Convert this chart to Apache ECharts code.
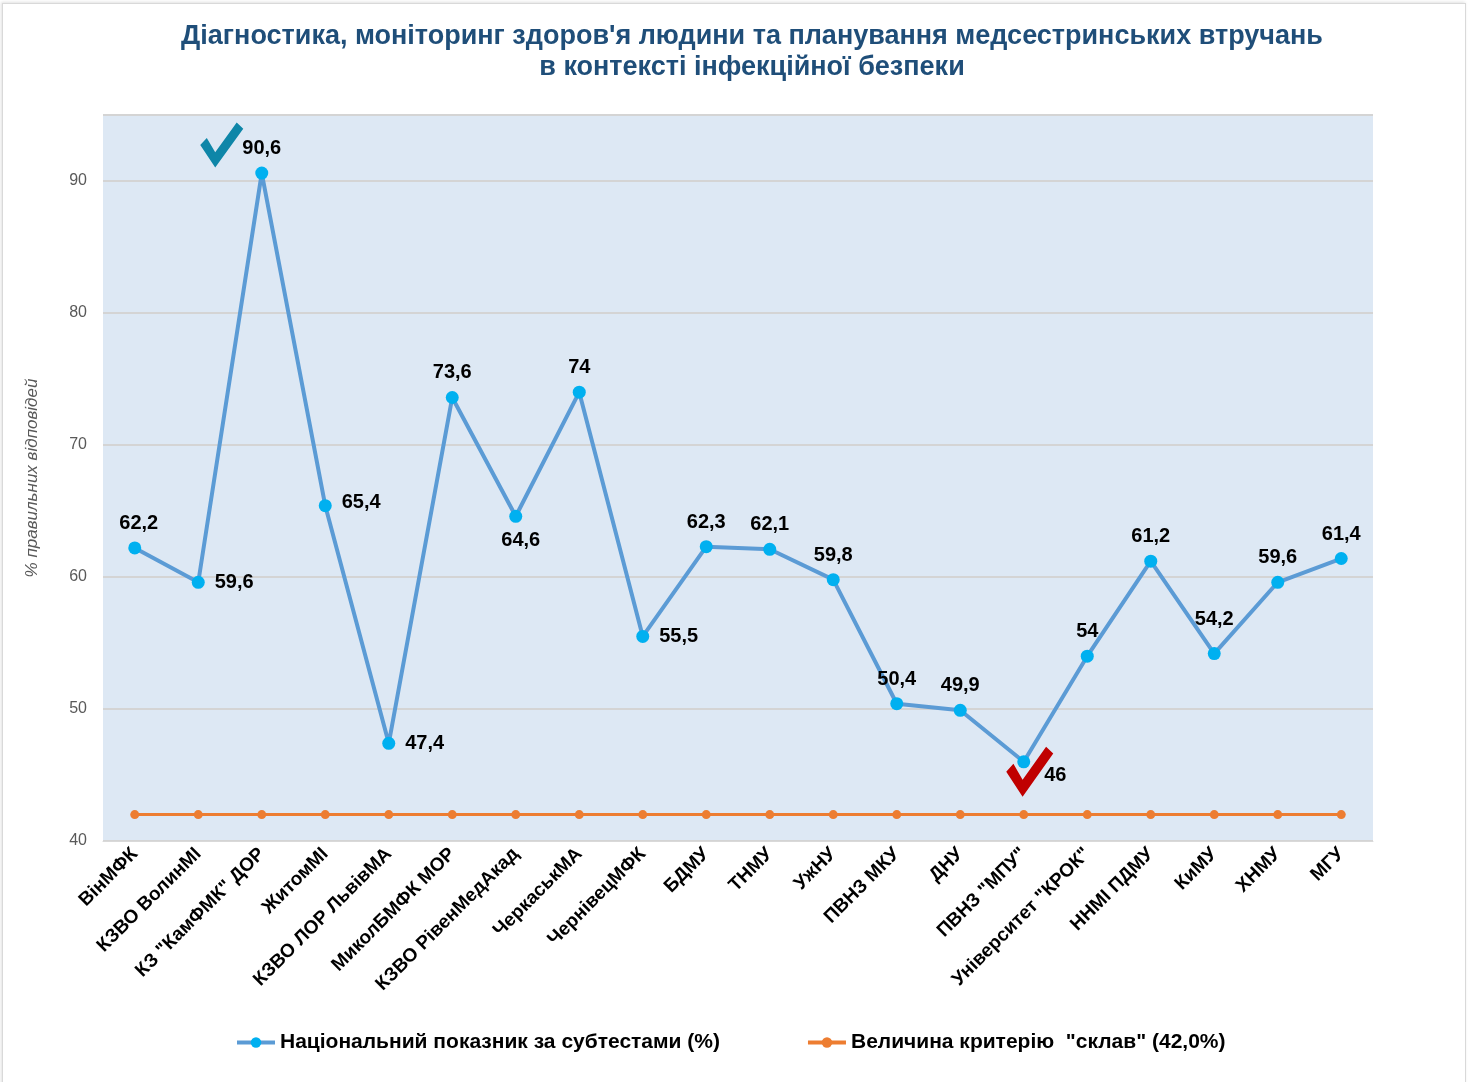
<!DOCTYPE html>
<html>
<head>
	<meta charset="utf-8">
	<title>chart</title>
	<style>
		body {
			margin: 0;
			padding: 0;
			background-color: #fff;
		}
		#frame {
			position: absolute;
			left: 2px;
			top: 3px;
			width: 1462px;
			height: 1090px;
			border: 1px solid #d9d9d9;
			box-shadow: -1px -1px 3px rgba(0, 0, 0, 0.12);
		}
		#main {
			position: absolute;
			left: 0;
			top: 0;
			width: 1471px;
			height: 1082px;
		}
	</style>
</head>
<body>
	<div id="frame"></div>
	<div id="main"></div>

	<script src="https://cdn.jsdelivr.net/npm/echarts@6/dist/echarts.min.js"></script>
	<script type="text/javascript">
		// навчальні заклади
		var categories = ['ВінМФК', 'КЗВО ВолинМІ', 'КЗ "КамФМК" ДОР', 'ЖитомМІ', 'КЗВО ЛОР ЛьвівМА',
			'МиколБМФК МОР', 'КЗВО РівенМедАкад', 'ЧеркаськМА', 'ЧернівецМФК', 'БДМУ',
			'ТНМУ', 'УжНУ', 'ПВНЗ МКУ', 'ДНУ', 'ПВНЗ "МПУ"',
			'Університет "КРОК"', 'ННМІ ПДМУ', 'КиМУ', 'ХНМУ', 'МГУ'];

		// національний показник (%)
		var nationalValues = [62.2, 59.6, 90.6, 65.4, 47.4, 73.6, 64.6, 74, 55.5, 62.3,
			62.1, 59.8, 50.4, 49.9, 46, 54, 61.2, 54.2, 59.6, 61.4];

		// критерій "склав"
		var thresholdValue = 42;
		var thresholdValues = categories.map(function () { return thresholdValue; });

		var seriesNames = ['Національний показник за субтестами (%)', 'Величина критерію  "склав" (42,0%)'];
		var yTicks = { min: 40, max: 95, interval: 10 };

		// де стоїть підпис кожної точки
		var labelPlace = ['top', 'right', 'top', 'right', 'right', 'top', 'bottom', 'top', 'right', 'top',
			'top', 'top', 'top', 'top', 'right', 'top', 'top', 'top', 'top', 'top'];

		var checkPath = 'path://M0,22 L7,15 L16,29 L39,0 L46,6 L16,44 Z';

		var lineData = nationalValues.map(function (v, i) {
			var p = labelPlace[i];
			var lbl = { position: p };
			if (p == 'right') lbl.offset = [2, 0];
			if (i == 3) lbl.offset = [2, -3];
			if (i == 14) lbl.offset = [6, 14];
			if (i == 6) lbl.offset = [5, 0];
			if (i == 17) lbl.offset = [0, -10];
			if (i == 0) lbl.offset = [4, 0];
			return { value: v, label: lbl };
		});

		var myChart = echarts.init(document.getElementById('main'));

		myChart.setOption({
			animation: false,
			title: {
				text: 'Діагностика, моніторинг здоров\'я людини та планування медсестринських втручань\nв контексті інфекційної безпеки',
				left: 747,
				textAlign: 'center',
				top: 16,
				textStyle: {
					fontFamily: 'Arial',
					fontSize: 27,
					fontWeight: 'bold',
					color: '#1F4E79',
					lineHeight: 31
				}
			},
			grid: {
				left: 103,
				right: 98,
				top: 115,
				bottom: 241,
				show: true,
				backgroundColor: '#DDE8F4',
				borderWidth: 0
			},
			legend: {
				bottom: 24,
				left: 230,
				itemGap: 86,
				itemWidth: 38,
				itemHeight: 13,
				lineStyle: { width: 4 },
				textStyle: {
					fontFamily: 'Arial',
					fontSize: 21,
					fontWeight: 'bold',
					color: '#000'
				},
				data: seriesNames
			},
			xAxis: {
				type: 'category',
				boundaryGap: true,
				data: categories,
				axisTick: { show: false },
				axisLine: { lineStyle: { color: '#d9d9d9', width: 1 } },
				axisLabel: {
					rotate: 45,
					interval: 0,
					margin: 10,
					fontFamily: 'Arial',
					fontSize: 19,
					fontWeight: 'bold',
					color: '#000'
				}
			},
			yAxis: {
				type: 'value',
				min: yTicks.min,
				max: yTicks.max,
				interval: yTicks.interval,
				name: '% правильних відповідей',
				nameLocation: 'middle',
				nameGap: 62,
				nameTextStyle: {
					fontFamily: 'Arial',
					fontSize: 17,
					fontStyle: 'italic',
					color: '#595959'
				},
				axisLine: { show: false },
				axisTick: { show: false },
				axisLabel: {
					margin: 16,
					fontFamily: 'Arial',
					fontSize: 16,
					color: '#595959',
					showMaxLabel: false
				},
				splitLine: { lineStyle: { color: '#d4d4d4', width: 2 } }
			},
			series: [
				{
					name: seriesNames[0],
					type: 'line',
					data: lineData,
					symbol: 'circle',
					symbolSize: 13,
					z: 3,
					lineStyle: { color: '#5B9BD5', width: 4 },
					itemStyle: { color: '#00B0F0' },
					label: {
						show: true,
						distance: 8,
						fontFamily: 'Arial',
						fontSize: 20,
						fontWeight: 'bold',
						color: '#000',
						formatter: function (p) { return String(p.value).replace('.', ','); }
					},
					markPoint: {
						silent: true,
						label: { show: false },
						data: [
							{
								coord: [categories[2], nationalValues[2]],
								symbol: checkPath,
								symbolSize: [43, 45],
								symbolOffset: [-40, -28],
								itemStyle: { color: '#0E86A8' }
							},
							{
								coord: [categories[14], nationalValues[14]],
								symbol: checkPath,
								symbolSize: [47, 50],
								symbolOffset: [6, 10],
								itemStyle: { color: '#C00000' }
							}
						]
					}
				},
				{
					name: seriesNames[1],
					type: 'line',
					data: thresholdValues,
					symbol: 'circle',
					symbolSize: 9,
					z: 2,
					lineStyle: { color: '#ED7D31', width: 3 },
					itemStyle: { color: '#ED7D31' }
				}
			]
		});

		window.addEventListener('resize', function () {
			myChart.resize();
		});
	</script>
</body>
</html>
